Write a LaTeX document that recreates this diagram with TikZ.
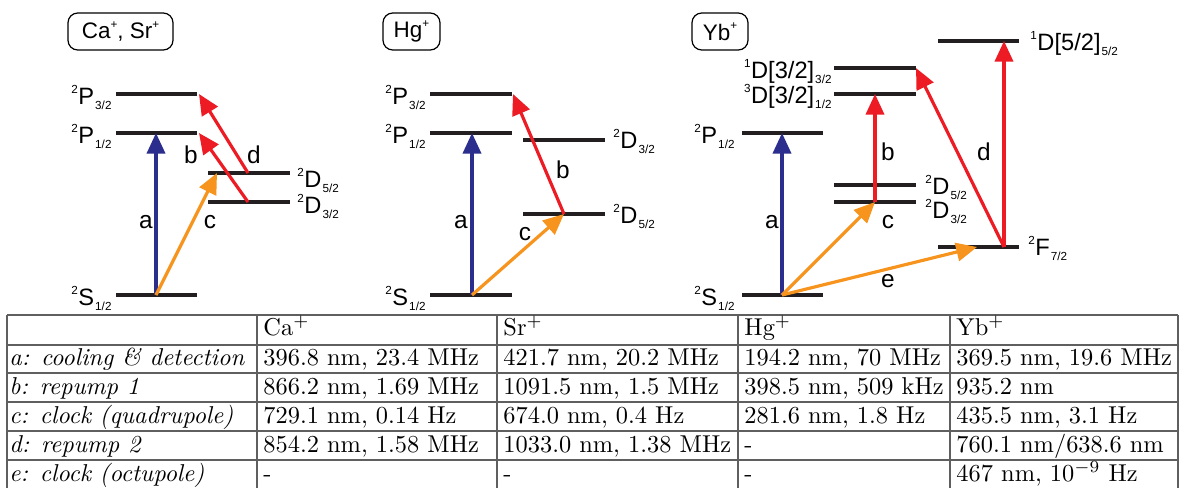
\documentclass[tikz,border=0pt]{standalone}
\usepackage{fontspec}
\newfontfamily\arial{Liberation Sans}
\usetikzlibrary{arrows.meta}
\definecolor{cblue}{RGB}{43,46,140}
\definecolor{cred}{RGB}{237,28,36}
\definecolor{corange}{RGB}{247,148,29}
\definecolor{clevel}{RGB}{35,31,32}
\definecolor{cgrid}{RGB}{95,95,95}
\newcommand{\scr}[1]{{\fontsize{4.8}{5}\selectfont #1}}
\newcommand{\lvl}[3]{\raisebox{4.3pt}{\scr{#1}}\kern0.2pt#2\kern0.4pt\raisebox{-2.4pt}{\scr{#3}}}
\newcommand{\ionp}[1]{#1\raisebox{4.3pt}{\scr{+}}}
\tikzset{
  level/.style={line width=1.35pt, draw=clevel},
  arr/.style={line width=1.3pt, -{Triangle[length=8.5pt,width=7.5pt]}},
  lblE/.style={anchor=base east, inner sep=0pt, font=\arial\fontsize{9.7}{11}\selectfont},
  lblW/.style={anchor=base west, inner sep=0pt, font=\arial\fontsize{9.7}{11}\selectfont},
  tlbl/.style={anchor=base, inner sep=0pt, font=\arial\fontsize{10}{12}\selectfont},
  ionbox/.style={draw=black, line width=0.5pt, rounded corners=4pt},
  iontxt/.style={inner sep=0pt, font=\arial\fontsize{9.2}{11}\selectfont},
  cell/.style={anchor=base west, inner sep=0pt, font=\fontsize{10}{12}\selectfont},
  grid/.style={draw=cgrid, line width=0.6pt}
}
\begin{document}
\begin{tikzpicture}[x=0.41pt,y=-0.41pt]
\useasboundingbox (0,0) rectangle (1179,487);
\clip (0,0) rectangle (1179,487);
\fill[white] (0,0) rectangle (1179,487);

% ================= Ca+, Sr+ =================
\draw[ionbox] (68,13) rectangle (173,50);
\node[iontxt] (caname) at (120.5,31.5) {\ionp{Ca}, \ionp{Sr}};
\coordinate (caP32L) at (116,94);  \coordinate (caP32R) at (197,94);
\coordinate (caP12L) at (116,133); \coordinate (caP12R) at (197,133);
\coordinate (caSL) at (116,295);   \coordinate (caSR) at (197,295);
\coordinate (caD52L) at (208,173); \coordinate (caD52R) at (290,173);
\coordinate (caD32L) at (208,202); \coordinate (caD32R) at (290,202);
\draw[level] (caP32L) -- (caP32R);
\draw[level] (caP12L) -- (caP12R);
\draw[level] (caSL) -- (caSR);
\draw[level] (caD52L) -- (caD52R);
\draw[level] (caD32L) -- (caD32R);
\node[lblE] (caP32t) at (112,104) {\lvl{2}{P}{3/2}};
\node[lblE] (caP12t) at (112,143) {\lvl{2}{P}{1/2}};
\node[lblE] (caSt) at (112,305) {\lvl{2}{S}{1/2}};
\node[lblW] (caD52t) at (297,187) {\lvl{2}{D}{5/2}};
\node[lblW] (caD32t) at (297,213) {\lvl{2}{D}{3/2}};
\coordinate (caS0) at (156,295);
\coordinate (caP1a) at (156,133);
\coordinate (caD5c) at (217,173);
\coordinate (caD3b) at (248,202);
\coordinate (caP1b) at (199,133);
\coordinate (caD5d) at (248,173);
\coordinate (caP3d) at (199,94);
\draw[arr, draw=cblue, fill=cblue] (caS0) -- (caP1a);
\draw[arr, draw=corange, fill=corange] (caS0) -- (caD5c);
\draw[arr, draw=cred, fill=cred] (caD3b) -- (caP1b);
\draw[arr, draw=cred, fill=cred] (caD5d) -- (caP3d);
\node[tlbl] (caa) at (146,228) {a};
\node[tlbl] (cab) at (191,163) {b};
\node[tlbl] (cac) at (210,228) {c};
\node[tlbl] (cad) at (254,163) {d};

% ================= Hg+ =================
\draw[ionbox] (383,13) rectangle (440,50);
\node[iontxt] (hgname) at (411.5,31.5) {\ionp{Hg}};
\coordinate (hgP32L) at (430,94);  \coordinate (hgP32R) at (512,94);
\coordinate (hgP12L) at (430,133); \coordinate (hgP12R) at (512,133);
\coordinate (hgSL) at (430,295);   \coordinate (hgSR) at (512,295);
\coordinate (hgD32L) at (523,140); \coordinate (hgD32R) at (605,140);
\coordinate (hgD52L) at (523,214); \coordinate (hgD52R) at (605,214);
\draw[level] (hgP32L) -- (hgP32R);
\draw[level] (hgP12L) -- (hgP12R);
\draw[level] (hgSL) -- (hgSR);
\draw[level] (hgD32L) -- (hgD32R);
\draw[level] (hgD52L) -- (hgD52R);
\node[lblE] (hgP32t) at (426,104) {\lvl{2}{P}{3/2}};
\node[lblE] (hgP12t) at (426,143) {\lvl{2}{P}{1/2}};
\node[lblE] (hgSt) at (426,305) {\lvl{2}{S}{1/2}};
\node[lblW] (hgD32t) at (613,148) {\lvl{2}{D}{3/2}};
\node[lblW] (hgD52t) at (613,223) {\lvl{2}{D}{5/2}};
\coordinate (hgS0) at (472,295);
\coordinate (hgP1a) at (472,133);
\coordinate (hgD5) at (564,214);
\coordinate (hgP3b) at (513,94);
\draw[arr, draw=cblue, fill=cblue] (hgS0) -- (hgP1a);
\draw[arr, draw=corange, fill=corange] (hgS0) -- (hgD5);
\draw[arr, draw=cred, fill=cred] (hgD5) -- (hgP3b);
\node[tlbl] (hga) at (461,228) {a};
\node[tlbl] (hgc) at (525,240) {c};
\node[tlbl] (hgb) at (563,178) {b};

% ================= Yb+ =================
\draw[ionbox] (692,13) rectangle (748,50);
\node[iontxt] (ybname) at (720,31.5) {\ionp{Yb}};
\coordinate (ybTL) at (938,41);    \coordinate (ybTR) at (1019,41);
\coordinate (yb13L) at (834,68);   \coordinate (yb13R) at (916,68);
\coordinate (yb31L) at (834,94);   \coordinate (yb31R) at (916,94);
\coordinate (ybPL) at (742,133);   \coordinate (ybPR) at (823,133);
\coordinate (ybD5L) at (834,185);  \coordinate (ybD5R) at (916,185);
\coordinate (ybD3L) at (834,202);  \coordinate (ybD3R) at (916,202);
\coordinate (ybFL) at (938,247);   \coordinate (ybFR) at (1019,247);
\coordinate (ybSL) at (742,295);   \coordinate (ybSR) at (823,295);
\draw[level] (ybTL) -- (ybTR);
\draw[level] (yb13L) -- (yb13R);
\draw[level] (yb31L) -- (yb31R);
\draw[level] (ybPL) -- (ybPR);
\draw[level] (ybD5L) -- (ybD5R);
\draw[level] (ybD3L) -- (ybD3R);
\draw[level] (ybFL) -- (ybFR);
\draw[level] (ybSL) -- (ybSR);
\node[lblW] (ybTt) at (1030,50) {\lvl{1}{D[5/2]}{5/2}};
\node[lblE] (yb13t) at (832,78) {\lvl{1}{D[3/2]}{3/2}};
\node[lblE] (yb31t) at (832,103) {\lvl{3}{D[3/2]}{1/2}};
\node[lblE] (ybPt) at (735,143) {\lvl{2}{P}{1/2}};
\node[lblW] (ybD5t) at (925,194) {\lvl{2}{D}{5/2}};
\node[lblW] (ybD3t) at (925,218) {\lvl{2}{D}{3/2}};
\node[lblW] (ybFt) at (1028,255) {\lvl{2}{F}{7/2}};
\node[lblE] (ybSt) at (735,305) {\lvl{2}{S}{1/2}};
\coordinate (ybS0) at (782,295);
\coordinate (ybPa) at (782,133);
\coordinate (ybD3c) at (875,202);
\coordinate (yb31b) at (875,94);
\coordinate (ybFe) at (977,247);
\coordinate (ybF0) at (1004,247);
\coordinate (yb13d) at (916,68);
\coordinate (ybTd) at (1004,41);
\draw[arr, draw=cblue, fill=cblue] (ybS0) -- (ybPa);
\draw[arr, draw=corange, fill=corange] (ybS0) -- (ybD3c);
\draw[arr, draw=cred, fill=cred] (ybD3c) -- (yb31b);
\draw[arr, draw=corange, fill=corange] (ybS0) -- (ybFe);
\draw[arr, draw=cred, fill=cred] (ybF0) -- (yb13d);
\draw[arr, draw=cred, fill=cred] (ybF0) -- (ybTd);
\node[tlbl] (yba) at (772,228) {a};
\node[tlbl] (ybb) at (888,160) {b};
\node[tlbl] (ybc) at (888,228) {c};
\node[tlbl] (ybd) at (984,160) {d};
\node[tlbl] (ybe) at (888,287) {e};

% ================= Table =================
\foreach \yy in {315,345,373,402,431,460,489} \draw[grid] (7,\yy) -- (1178,\yy);
\foreach \xx in {7,257,497,738,950,1178} \draw[grid] (\xx,315) -- (\xx,489);

\node[cell] (h1) at (263,335) {Ca$^+$};
\node[cell] (h2) at (503,335) {Sr$^+$};
\node[cell] (h3) at (744,335) {Hg$^+$};
\node[cell] (h4) at (956,335) {Yb$^+$};

\node[cell] (r1c0) at (9,365) {\textit{a: cooling \& detection}};
\node[cell] (r1c1) at (263,365) {396.8 nm, 23.4 MHz};
\node[cell] (r1c2) at (503,365) {421.7 nm, 20.2 MHz};
\node[cell] (r1c3) at (744,365) {194.2 nm, 70 MHz};
\node[cell] (r1c4) at (956,365) {369.5 nm, 19.6 MHz};

\node[cell] (r2c0) at (9,394) {\textit{b: repump 1}};
\node[cell] (r2c1) at (263,394) {866.2 nm, 1.69 MHz};
\node[cell] (r2c2) at (503,394) {1091.5 nm, 1.5 MHz};
\node[cell] (r2c3) at (744,394) {398.5 nm, 509 kHz};
\node[cell] (r2c4) at (956,394) {935.2 nm};

\node[cell] (r3c0) at (9,423) {\textit{c: clock (quadrupole)}};
\node[cell] (r3c1) at (263,423) {729.1 nm, 0.14 Hz};
\node[cell] (r3c2) at (503,423) {674.0 nm, 0.4 Hz};
\node[cell] (r3c3) at (744,423) {281.6 nm, 1.8 Hz};
\node[cell] (r3c4) at (956,423) {435.5 nm, 3.1 Hz};

\node[cell] (r4c0) at (9,452) {\textit{d: repump 2}};
\node[cell] (r4c1) at (263,452) {854.2 nm, 1.58 MHz};
\node[cell] (r4c2) at (503,452) {1033.0 nm, 1.38 MHz};
\node[cell] (r4c3) at (744,452) {-};
\node[cell] (r4c4) at (956,452) {760.1 nm/638.6 nm};

\node[cell] (r5c0) at (9,481) {\textit{e: clock (octupole)}};
\node[cell] (r5c1) at (263,481) {-};
\node[cell] (r5c2) at (503,481) {-};
\node[cell] (r5c3) at (744,481) {-};
\node[cell] (r5c4) at (956,481) {467 nm, 10$^{-9}$ Hz};
\end{tikzpicture}
\end{document}
